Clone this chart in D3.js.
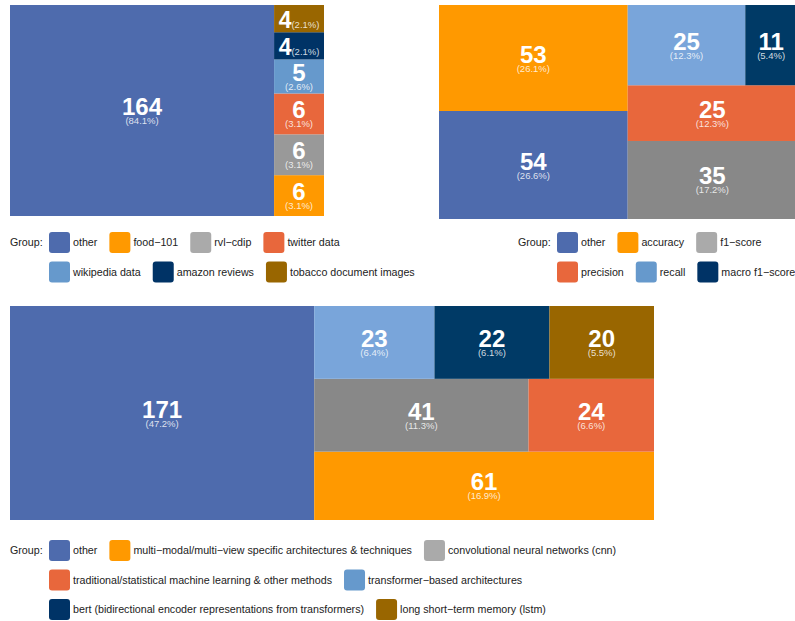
<!DOCTYPE html>
<html lang="en"><head>
<meta charset="utf-8">
<title>Treemaps</title>
<script src="https://cdn.jsdelivr.net/npm/d3@7"></script>
<style>
  body { margin: 0; background: #fff; }
  text { font-family: "Liberation Sans", Arial, sans-serif; }
</style>
</head>
<body>
<script type="text/javascript">

// data for each panel (legend order = group order)
var datasetGroups = ["other", "food\u2212101", "rvl\u2212cdip", "twitter data", "wikipedia data", "amazon reviews", "tobacco document images"];
var datasetCounts = [164, 6, 6, 6, 5, 4, 4];

var metricGroups = ["other", "accuracy", "f1\u2212score", "precision", "recall", "macro f1\u2212score"];
var metricCounts = [54, 53, 35, 25, 25, 11];

var methodGroups = ["other", "multi\u2212modal/multi\u2212view specific architectures & techniques", "convolutional neural networks (cnn)",
    "traditional/statistical machine learning & other methods", "transformer\u2212based architectures",
    "bert (bidirectional encoder representations from transformers)", "long short\u2212term memory (lstm)"];
var methodCounts = [171, 61, 41, 24, 23, 22, 20];

// colours
var tileColsA = ["#4e6bad", "#ff9900", "#999999", "#e8673c", "#6699cc", "#003366", "#996600"];
var tileColsB = ["#4e6bad", "#ff9900", "#888888", "#e8673c", "#79a5da", "#003a66", "#996600"];
var keyCols   = ["#4e6bad", "#ff9900", "#aaaaaa", "#e8673c", "#6699cc", "#003366", "#996600"];

var svg = d3.select("body").append("svg")
    .attr("width", 795)
    .attr("height", 621);

function drawTreemap(groups, counts, cols, box) {
    var total = d3.sum(counts);
    var root = d3.hierarchy({children: groups.map(function(g, i) { return {name: g, value: counts[i], idx: i}; })})
        .sum(function(d) { return d.value || 0; })
        .sort(function(a, b) { return b.value - a.value; });

    // layout on the unit square, then stretch to the panel (y flipped)
    d3.treemap().tile(d3.treemapSquarify.ratio(1)).size([1, 1]).round(false)(root);

    var x = d3.scaleLinear().domain([0, 1]).range([box.x0, box.x1]);
    var y = d3.scaleLinear().domain([0, 1]).range([box.y1, box.y0]);

    var g = svg.append("g");
    var cell = g.selectAll("g").data(root.leaves()).enter().append("g");

    cell.append("rect")
        .attr("x", function(d) { return x(d.x0); })
        .attr("y", function(d) { return y(d.y1); })
        .attr("width", function(d) { return x(d.x1) - x(d.x0); })
        .attr("height", function(d) { return y(d.y0) - y(d.y1); })
        .attr("fill", function(d) { return cols[d.data.idx]; });

    cell.each(function(d) {
        var c = d3.select(this);
        var cx = (x(d.x0) + x(d.x1)) / 2;
        var cy = (y(d.y1) + y(d.y0)) / 2;
        var h = y(d.y0) - y(d.y1);
        var pct = "(" + (d.value / total * 100).toFixed(1) + "%)";
        if (h < 34) {
            // too short: number and percent side by side
            var t = c.append("text")
                .attr("x", cx).attr("y", cy + 9.5)
                .attr("text-anchor", "middle")
                .attr("fill", "#fff");
            t.append("tspan").attr("font-size", 23).attr("font-weight", "bold").text(d.value);
            t.append("tspan").attr("font-size", 9.5).attr("fill-opacity", 0.82).text(pct);
        } else {
            c.append("text")
                .attr("x", cx).attr("y", cy + 4.5)
                .attr("text-anchor", "middle")
                .attr("font-size", 24).attr("font-weight", "bold")
                .attr("fill", "#fff")
                .text(d.value);
            c.append("text")
                .attr("x", cx).attr("y", cy + 13.5)
                .attr("text-anchor", "middle")
                .attr("font-size", 9.5)
                .attr("fill", "#fff").attr("fill-opacity", 0.82)
                .text(pct);
        }
    });
}

function drawLegend(groups, rows, x0, y0) {
    var g = svg.append("g");
    g.append("text").attr("x", x0).attr("y", y0 + 4)
        .attr("font-size", 10.7).attr("fill", "#222").text("Group:");
    var k = 0;
    rows.forEach(function(n, r) {
        var xx = x0 + 39;
        var yy = y0 + r * 29.5;
        for (var i = 0; i < n; i++, k++) {
            g.append("rect")
                .attr("x", xx).attr("y", yy - 10)
                .attr("width", 21).attr("height", 21)
                .attr("rx", 3)
                .attr("fill", keyCols[k]);
            var t = g.append("text")
                .attr("x", xx + 24).attr("y", yy + 4)
                .attr("font-size", 10.7).attr("fill", "#222")
                .text(groups[k]);
            xx += 24 + t.node().getComputedTextLength() + 12;
        }
    });
}

drawTreemap(datasetGroups, datasetCounts, tileColsA, {x0: 10, x1: 324, y0: 5, y1: 216});
drawTreemap(metricGroups, metricCounts, tileColsB, {x0: 439, x1: 797, y0: 5, y1: 219});
drawTreemap(methodGroups, methodCounts, tileColsB, {x0: 10, x1: 654, y0: 306, y1: 520});

drawLegend(datasetGroups, [4, 3], 10, 242);
drawLegend(metricGroups, [3, 3], 518, 242);
drawLegend(methodGroups, [3, 2, 2], 10, 550);

</script>
</body></html>
